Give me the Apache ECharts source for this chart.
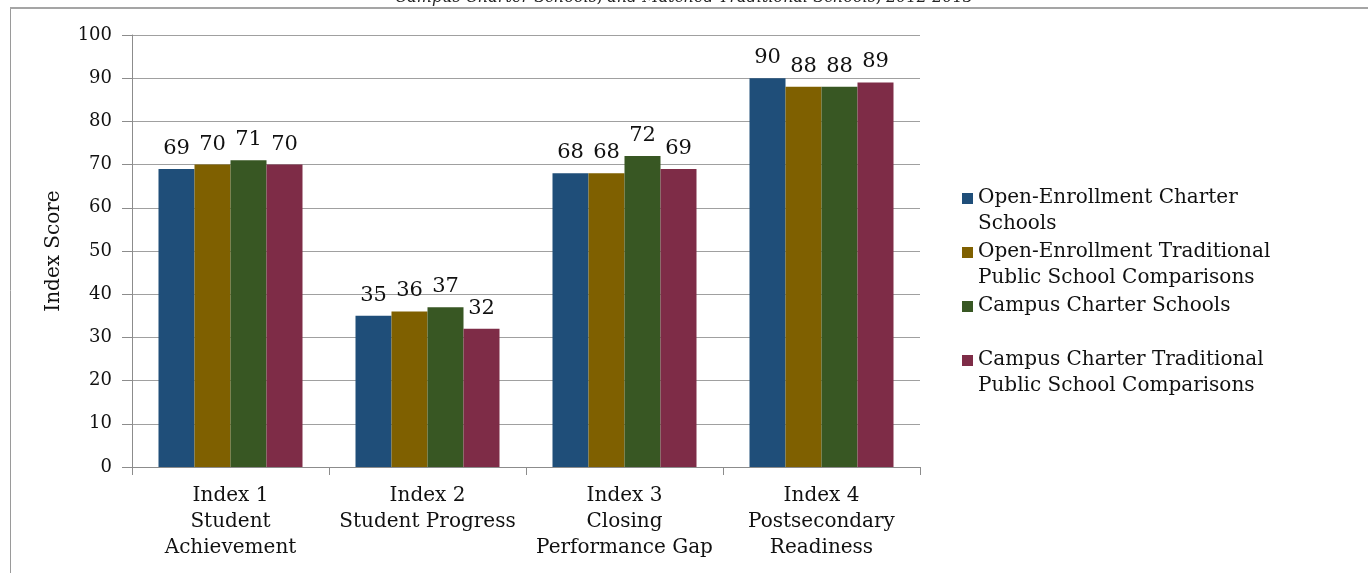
<!DOCTYPE html>
<html>
<head>
<meta charset="utf-8">
<script src="https://cdn.jsdelivr.net/npm/echarts@6/dist/echarts.min.js"></script>
<style>
  html, body { margin: 0; padding: 0; background: #fff; }
  #chart { width: 1368px; height: 573px; }
</style>
</head>
<body>
<div id="chart"></div>
<script>
// Index categories shown along the x axis
const categories = [
  'Index 1\nStudent\nAchievement',
  'Index 2\nStudent Progress',
  'Index 3\nClosing\nPerformance Gap',
  'Index 4\nPostsecondary\nReadiness'
];

// Series names
const seriesNames = [
  'Open-Enrollment Charter Schools',
  'Open-Enrollment Traditional Public School Comparisons',
  'Campus Charter Schools',
  'Campus Charter Traditional Public School Comparisons'
];

// Index scores per group
const openCharter = [69, 35, 68, 90];
const openTraditional = [70, 36, 68, 88];
const campusCharter = [71, 37, 72, 88];
const campusTraditional = [70, 32, 69, 89];

// Legend text as wrapped lines
const legendLines = {
  'Open-Enrollment Charter Schools': 'Open-Enrollment Charter\nSchools',
  'Open-Enrollment Traditional Public School Comparisons': 'Open-Enrollment Traditional\nPublic School Comparisons',
  'Campus Charter Schools': 'Campus Charter Schools\n ',
  'Campus Charter Traditional Public School Comparisons': 'Campus Charter Traditional\nPublic School Comparisons'
};

const colors = ['#1F4E79', '#7F6000', '#385723', '#7E2C47'];
const FONT = '"DejaVu Serif", "Liberation Serif", serif';

const chart = echarts.init(document.getElementById('chart'), null, { renderer: 'canvas' });

function barSeries(name, data, color) {
  return {
    name: name,
    type: 'bar',
    data: data,
    barWidth: 36,
    barGap: '0%',
    itemStyle: { color: color },
    label: {
      show: true,
      position: 'top',
      distance: 10,
      color: '#111',
      fontFamily: FONT,
      fontSize: 21
    }
  };
}

chart.setOption({
  animation: false,
  backgroundColor: '#fff',
  textStyle: { fontFamily: FONT },
  title: {
    text: 'Campus Charter Schools, and Matched Traditional Schools, 2012-2013',
    left: 'center',
    top: -15,
    textStyle: { fontFamily: FONT, fontStyle: 'italic', fontWeight: 'normal', fontSize: 16, color: '#222' }
  },
  graphic: [
    { type: 'line', shape: { x1: 10.5, y1: 8, x2: 10.5, y2: 573 }, style: { stroke: '#9a9a9a', lineWidth: 1 } },
    { type: 'line', shape: { x1: 10, y1: 8, x2: 1368, y2: 8 }, style: { stroke: '#a5a5a5', lineWidth: 2 } }
  ],
  legend: {
    orient: 'vertical',
    left: 957,
    top: 180,
    itemWidth: 11,
    itemHeight: 52,
    itemGap: 2,
    // square at the level of the first text line
    icon: 'path://M0,8L11,8L11,19L0,19Z M0,0 M0,52',
    formatter: function (name) { return legendLines[name]; },
    textStyle: { fontFamily: FONT, fontSize: 20, lineHeight: 26, color: '#111' },
    selectedMode: false,
    data: seriesNames
  },
  grid: { left: 132, right: 448, top: 35, bottom: 106, containLabel: false },
  xAxis: {
    type: 'category',
    data: categories,
    axisLine: { lineStyle: { color: '#8c8c8c', width: 1 } },
    axisTick: { show: true, length: 8, alignWithLabel: false, lineStyle: { color: '#8c8c8c' } },
    axisLabel: { color: '#111', fontFamily: FONT, fontSize: 20, lineHeight: 26, margin: 16, interval: 0 }
  },
  yAxis: {
    type: 'value',
    min: 0,
    max: 100,
    interval: 10,
    name: 'Index Score',
    nameLocation: 'middle',
    nameGap: 68,
    nameRotate: 90,
    nameTextStyle: { color: '#111', fontFamily: FONT, fontSize: 20 },
    axisLine: { show: true, lineStyle: { color: '#8c8c8c' } },
    axisTick: { show: true, inside: false, length: 10, lineStyle: { color: '#8c8c8c' } },
    axisLabel: { color: '#111', fontFamily: FONT, fontSize: 18, margin: 20 },
    splitLine: { show: true, lineStyle: { color: '#a0a0a0', width: 1 } }
  },
  series: [
    barSeries(seriesNames[0], openCharter, colors[0]),
    barSeries(seriesNames[1], openTraditional, colors[1]),
    barSeries(seriesNames[2], campusCharter, colors[2]),
    barSeries(seriesNames[3], campusTraditional, colors[3])
  ]
});
</script>
</body>
</html>
